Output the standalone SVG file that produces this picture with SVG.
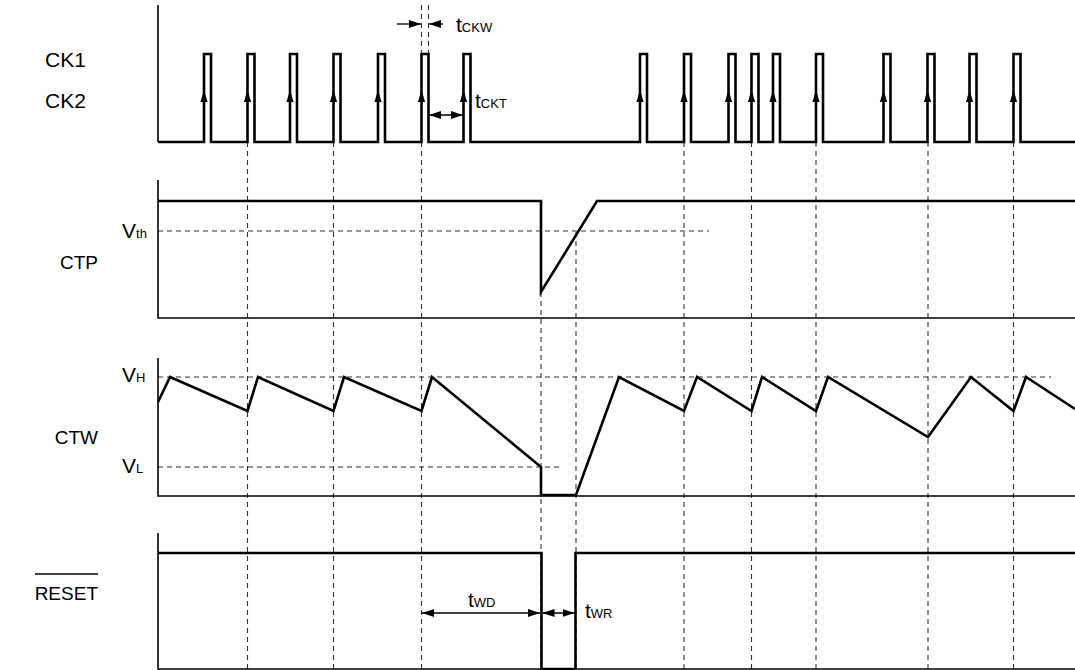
<svg xmlns="http://www.w3.org/2000/svg" width="1075" height="670" viewBox="0 0 1075 670">
<style>
.lbl{font-family:"Liberation Sans",Arial,sans-serif;font-size:21px;fill:#000}
.sig{font-size:19px;text-anchor:end}
.sub{font-size:13px}
.ax{stroke:#000;stroke-width:1.6;fill:none}
.wave{stroke:#000;stroke-width:2.6;fill:none;stroke-linejoin:miter}
.dash{stroke:#333;stroke-width:1.1;stroke-dasharray:5,4;fill:none}
.arr{stroke:#000;stroke-width:1.3;fill:none}
</style>
<defs>
<marker id="ah" viewBox="0 0 12 8" refX="12" refY="4" markerWidth="12" markerHeight="8" markerUnits="userSpaceOnUse" orient="auto-start-reverse"><path d="M0,0 L12,4 L0,8 z" fill="#000"/></marker>
<path id="up" d="M0,-6 L3.6,6 L-3.6,6 z" fill="#000"/>
</defs>

<g id="guides">
<path class="dash" d="M247.5,142V670 M333.5,142V670 M421.5,142V670 M684,142V670 M751.5,142V670 M816,142V670 M928,142V670 M1013.5,142V670 M541,292V670 M576,232V670"/>
<path class="dash" d="M421.5,5V54 M428.5,5V54"/>
<path class="dash" d="M158,231H709 M158,377H1051 M158,467H560"/>
</g>

<g id="ck">
<path class="ax" d="M158,5V142"/>
<path class="wave" d="M158,142H204V54H211V142H247.5V54H254.5V142H290V54H297V142H333.5V54H340.5V142H378V54H385V142H421.5V54H428.5V142H463.5V54H470.5V142H640V54H647V142H684V54H691V142H728.5V54H735.5V142H751.5V54H758.5V142H773V54H780V142H816V54H823V142H883.5V54H890.5V142H927.5V54H934.5V142H969.5V54H976.5V142H1013.5V54H1020.5V142H1075"/>
<use href="#up" x="204" y="96"/><use href="#up" x="247.5" y="96"/><use href="#up" x="290" y="96"/><use href="#up" x="333.5" y="96"/><use href="#up" x="378" y="96"/><use href="#up" x="421.5" y="96"/><use href="#up" x="463.5" y="96"/><use href="#up" x="640" y="96"/><use href="#up" x="684" y="96"/><use href="#up" x="728.5" y="96"/><use href="#up" x="751.5" y="96"/><use href="#up" x="773" y="96"/><use href="#up" x="816" y="96"/><use href="#up" x="883.5" y="96"/><use href="#up" x="927.5" y="96"/><use href="#up" x="969.5" y="96"/><use href="#up" x="1013.5" y="96"/>
<text class="lbl" x="45" y="67">CK1</text>
<text class="lbl" x="45" y="108">CK2</text>
</g>

<g id="ctp">
<path class="ax" d="M158,180V318H1075"/>
<path class="wave" d="M158,201H541V292L597,201H1075"/>
<text class="lbl sig" x="98" y="269">CTP</text>
<text class="lbl" x="122" y="238">V<tspan class="sub">th</tspan></text>
</g>

<g id="ctw">
<path class="ax" d="M158,358V496H1075"/>
<path class="wave" d="M158,402L170,377L247.5,411L258,377L333.5,411L344,377L421.5,411L432,377L541,467V495H576L619,377L684,411L697,377L751.5,411L762,377L816,411L828,377L928,437L971,377L1013.5,411L1026,377L1075,409"/>
<text class="lbl sig" x="98" y="444">CTW</text>
<text class="lbl" x="122" y="382">V<tspan class="sub">H</tspan></text>
<text class="lbl" x="122" y="473">V<tspan class="sub">L</tspan></text>
</g>

<g id="reset">
<path class="ax" d="M158,533V669H1075"/>
<path class="wave" d="M158,553H541.5V669H575.5V553H1075"/>
<text class="lbl sig" x="98" y="600">RESET</text>
<path class="ax" d="M35,574H98" style="stroke-width:1.3"/>
</g>

<g id="connectors">
<path class="arr" d="M397,24H421" marker-end="url(#ah)"/>
<path class="arr" d="M443,24H429" marker-end="url(#ah)"/>
<path class="arr" d="M429,115H463" marker-start="url(#ah)" marker-end="url(#ah)"/>
<path class="arr" d="M422,613H540" marker-start="url(#ah)" marker-end="url(#ah)"/>
<path class="arr" d="M542.5,613H574.5" marker-start="url(#ah)" marker-end="url(#ah)"/>
</g>

<g id="annotations">
<text class="lbl" x="456" y="32">t<tspan class="sub">CKW</tspan></text>
<text class="lbl" x="475" y="108">t<tspan class="sub">CKT</tspan></text>
<text class="lbl" x="468" y="607">t<tspan class="sub">WD</tspan></text>
<text class="lbl" x="585" y="618">t<tspan class="sub">WR</tspan></text>
</g>
</svg>
